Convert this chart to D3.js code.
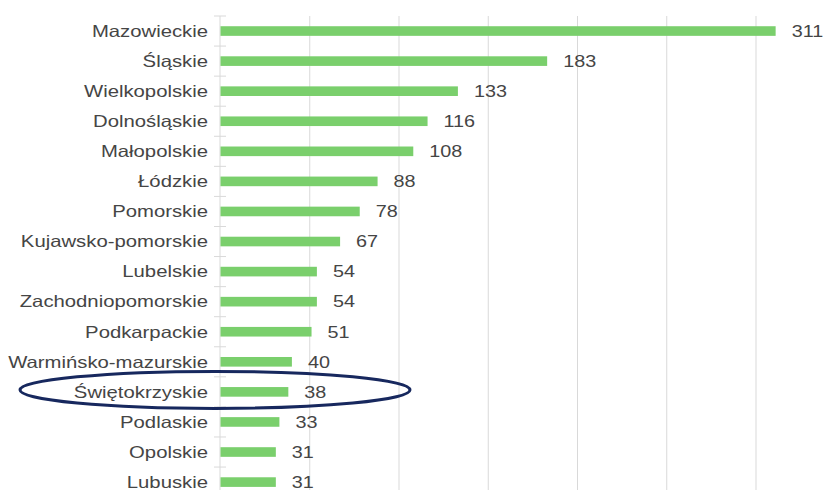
<!DOCTYPE html>
<html>
<head>
<meta charset="utf-8">
<script src="https://cdn.jsdelivr.net/npm/d3@7"></script>
<style>
  html, body { margin: 0; padding: 0; background: #ffffff; }
  svg { display: block; }
  text { font-family: "Liberation Sans", Arial, sans-serif; fill: #454545; }
</style>
</head>
<body>
<svg id="chart" width="825" height="490"></svg>
<script>
// Voivodeships and their counts, largest first
const regions = [
  "Mazowieckie", "Śląskie", "Wielkopolskie", "Dolnośląskie", "Małopolskie",
  "Łódzkie", "Pomorskie", "Kujawsko-pomorskie", "Lubelskie", "Zachodniopomorskie",
  "Podkarpackie", "Warmińsko-mazurskie", "Świętokrzyskie", "Podlaskie", "Opolskie", "Lubuskie"
];
const counts = [311, 183, 133, 116, 108, 88, 78, 67, 54, 54, 51, 40, 38, 33, 31, 31];
const gridValues = [50, 100, 150, 200, 250, 300];
const highlighted = "Świętokrzyskie";

const svg = d3.select("#chart");
const fontSize = 16.5;

const x = d3.scaleLinear().domain([0, 350]).range([220.5, 845.25]);
const y = d3.scaleBand()
  .domain(regions)
  .range([16, 16 + regions.length * 30.07])
  .paddingInner(0.68)
  .paddingOuter(0.34);

const plotTop = y.range()[0], plotBottom = y.range()[1];

// vertical gridlines
svg.append("g")
  .selectAll("line")
  .data(gridValues)
  .join("line")
  .attr("x1", d => x(d)).attr("x2", d => x(d))
  .attr("y1", plotTop).attr("y2", plotBottom)
  .attr("stroke", "#d9d9d9").attr("stroke-width", 1);

// category axis line with tick marks between rows
const axisG = svg.append("g");
axisG.append("line")
  .attr("x1", x(0) - 0.5).attr("x2", x(0) - 0.5)
  .attr("y1", plotTop).attr("y2", plotBottom)
  .attr("stroke", "#d9d9d9").attr("stroke-width", 1);
const boundaries = d3.range(regions.length + 1).map(i => plotTop + i * y.step());
axisG.selectAll("line.tick")
  .data(boundaries)
  .join("line")
  .attr("class", "tick")
  .attr("x1", x(0) - 6.5).attr("x2", x(0) + 5.5)
  .attr("y1", d => d).attr("y2", d => d)
  .attr("stroke", "#d9d9d9").attr("stroke-width", 1);

// bars
svg.append("g")
  .selectAll("rect")
  .data(regions)
  .join("rect")
  .attr("x", x(0))
  .attr("y", d => y(d))
  .attr("width", (d, i) => x(counts[i]) - x(0))
  .attr("height", y.bandwidth())
  .attr("fill", "#7acf6c");

// category labels (slightly wide lettering)
svg.append("g")
  .selectAll("text")
  .data(regions)
  .join("text")
  .attr("transform", d => `translate(${x(0) - 12.5},${y(d) + y.bandwidth() / 2}) scale(1.23,1)`)
  .attr("text-anchor", "end")
  .attr("dy", "0.35em")
  .style("font-size", fontSize + "px")
  .text(d => d);

// value labels
svg.append("g")
  .selectAll("text")
  .data(regions)
  .join("text")
  .attr("transform", (d, i) => `translate(${x(counts[i]) + 16},${y(d) + y.bandwidth() / 2}) scale(1.2,1)`)
  .attr("text-anchor", "start")
  .attr("dy", "0.35em")
  .style("font-size", fontSize + "px")
  .text((d, i) => counts[i]);

// outline around the highlighted region
svg.append("ellipse")
  .attr("cx", 215)
  .attr("cy", y(highlighted) + y.bandwidth() / 2 - 2)
  .attr("rx", 195)
  .attr("ry", 18.5)
  .attr("fill", "none")
  .attr("stroke", "#17285e")
  .attr("stroke-width", 3);
</script>
</body>
</html>
